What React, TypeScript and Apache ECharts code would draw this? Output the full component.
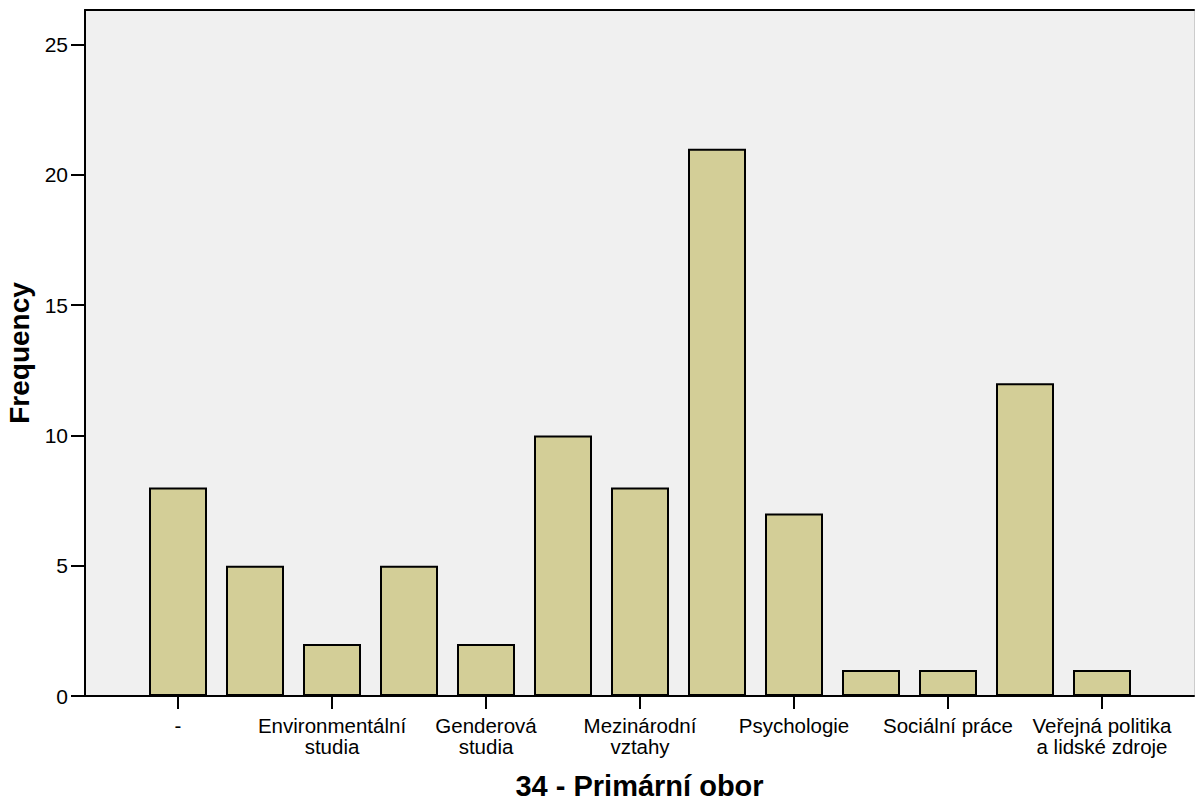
import React, { useEffect, useRef } from "react";
import * as echarts from "echarts";

// Only every second category name is printed in the reference; the others are unknown.
const categories = [
  "-",
  "",
  "Environmentální\nstudia",
  "",
  "Genderová\nstudia",
  "",
  "Mezinárodní\nvztahy",
  "",
  "Psychologie",
  "",
  "Sociální práce",
  "",
  "Veřejná politika\na lidské zdroje",
];
const frequencies = [8, 5, 2, 5, 2, 10, 8, 21, 7, 1, 1, 12, 1];
const yTicks = [0, 5, 10, 15, 20, 25];
const yMax = 26.33;

export default function App() {
  const ref = useRef<HTMLDivElement>(null);
  useEffect(() => {
    document.body.style.margin = "0";
    const chart = echarts.init(ref.current!, null, { renderer: "svg" });
    const font = "'Liberation Sans', Arial, sans-serif";
    chart.setOption({
      animation: false,
      backgroundColor: "#ffffff",
      textStyle: { fontFamily: font },
      grid: [
        // bars grid
        {
          left: 139.5,
          right: 54.5,
          top: 10,
          bottom: 104,
          show: false,
          containLabel: false,
          outerBoundsMode: "none",
        },
        // frame grid
        {
          left: 85,
          right: 1,
          top: 10,
          bottom: 104,
          show: true,
          backgroundColor: "#f0f0f0",
          borderWidth: 0,
          containLabel: false,
          outerBoundsMode: "none",
        },
      ],
      xAxis: [
        {
          type: "category",
          gridIndex: 0,
          data: categories,
          boundaryGap: true,
          axisLine: { show: false },
          axisTick: {
            show: true,
            length: 13,
            interval: 1,
            alignWithLabel: true,
            lineStyle: { color: "#000", width: 2 },
          },
          axisLabel: {
            show: true,
            interval: 1,
            fontSize: 20.5,
            lineHeight: 21,
            margin: 19,
            color: "#000",
            fontFamily: font,
          },
          splitLine: { show: false },
        },
        {
          type: "value",
          gridIndex: 1,
          min: 0,
          max: 1,
          position: "bottom",
          name: "34 - Primární obor",
          nameLocation: "middle",
          nameGap: 75,
          nameTextStyle: { fontSize: 29, fontWeight: "bold", color: "#000", fontFamily: font },
          axisLine: { show: true, onZero: false, lineStyle: { color: "#000", width: 2 } },
          axisTick: { show: false },
          axisLabel: { show: false },
          splitLine: { show: false },
        },
        {
          type: "value",
          gridIndex: 1,
          min: 0,
          max: 1,
          position: "top",
          axisLine: { show: true, onZero: false, lineStyle: { color: "#000", width: 2 } },
          axisTick: { show: false },
          axisLabel: { show: false },
          splitLine: { show: false },
        },
      ],
      yAxis: [
        {
          type: "value",
          gridIndex: 0,
          min: 0,
          max: yMax,
          show: false,
        },
        {
          type: "value",
          gridIndex: 1,
          min: 0,
          max: yMax,
          name: "Frequency",
          nameLocation: "middle",
          nameGap: 46,
          nameTextStyle: { fontSize: 28, fontWeight: "bold", color: "#000", fontFamily: font },
          axisLine: { show: true, onZero: false, lineStyle: { color: "#000", width: 2 } },
          axisTick: {
            show: true,
            length: 14,
            customValues: yTicks,
            lineStyle: { color: "#000", width: 2 },
          },
          axisLabel: {
            show: true,
            customValues: yTicks,
            fontSize: 21,
            margin: 17,
            color: "#000",
            fontFamily: font,
          },
          splitLine: { show: false },
        },
        {
          type: "value",
          gridIndex: 1,
          min: 0,
          max: yMax,
          position: "right",
          axisLine: { show: true, onZero: false, lineStyle: { color: "#cccccc", width: 1 } },
          axisTick: { show: false },
          axisLabel: { show: false },
          splitLine: { show: false },
        },
      ],
      series: [
        {
          type: "bar",
          xAxisIndex: 0,
          yAxisIndex: 0,
          barWidth: 58,
          data: frequencies,
          itemStyle: { color: "#d3ce97", borderColor: "#000", borderWidth: 2 },
        },
      ],
    });
    return () => chart.dispose();
  }, []);
  return <div ref={ref} style={{ width: 1195, height: 800 }} />;
}
